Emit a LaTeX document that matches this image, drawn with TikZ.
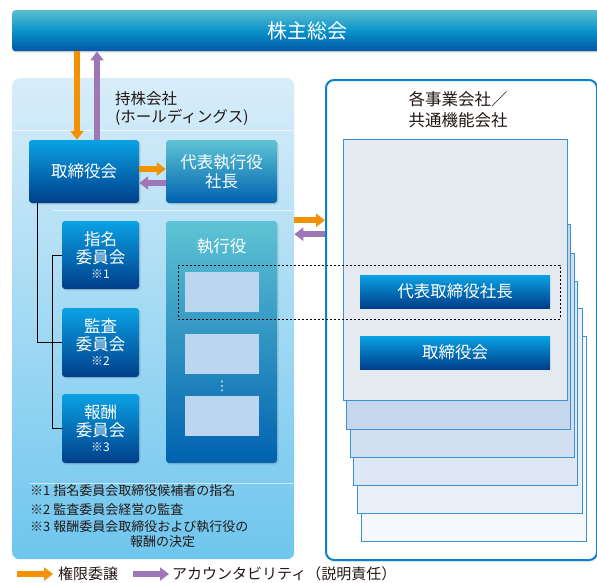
\documentclass[tikz,border=0pt]{standalone}
\usepackage{fontspec}
\setmainfont{Noto Sans CJK JP}
\newfontfamily\dejavu{DejaVu Sans}
\usetikzlibrary{arrows.meta,shadows,calc}
\definecolor{barTop}{HTML}{5BBFD0}
\definecolor{barMid}{HTML}{0A92CA}
\definecolor{barBot}{HTML}{0057A6}
\definecolor{bxTop}{HTML}{0AA2E4}
\definecolor{bxBot}{HTML}{003E8A}
\definecolor{tlTop}{HTML}{5EC4D4}
\definecolor{tlBot}{HTML}{0062B0}
\definecolor{pnTop}{HTML}{D8EDF9}
\definecolor{pnBot}{HTML}{6EC6EE}
\definecolor{bord}{HTML}{0A82CC}
\definecolor{pg1}{HTML}{E4EAF0}
\definecolor{pg2}{HTML}{C6D6EC}
\definecolor{pg3}{HTML}{D2DFF1}
\definecolor{pg4}{HTML}{DEE7F5}
\definecolor{pg5}{HTML}{E9F0F9}
\definecolor{pg6}{HTML}{F5F9FD}
\definecolor{pgBord}{HTML}{3A92D4}
\definecolor{innerbx}{HTML}{BDD6EF}
\definecolor{orng}{HTML}{F39200}
\definecolor{purp}{HTML}{9E78B6}
\definecolor{txt}{HTML}{231815}
\begin{document}
\begin{tikzpicture}[x=1pt,y=-1pt,
  shd/.style={drop shadow={opacity=0.25,shadow xshift=1.5pt,shadow yshift=-1.5pt}},
  bluebox/.style={rounded corners=3pt, top color=bxTop, bottom color=bxBot, text=white, inner sep=0pt, align=center, shd},
  tealbox/.style={rounded corners=3pt, top color=tlTop, bottom color=tlBot, text=white, inner sep=0pt, align=center, shd},
  barbox/.style={top color=bxTop, bottom color=bxBot, text=white, inner sep=0pt, minimum width=190, minimum height=33, font=\fontsize{16.5}{18}\selectfont},
  page/.style={draw=pgBord, line width=0.8pt, anchor=north west, inner sep=0pt},
  innerbox/.style={fill=innerbx, inner sep=0pt, minimum width=74, minimum height=40},
  orarrow/.style={draw=orng, line width=6pt, -{Triangle[length=9pt,width=13pt]}},
  puarrow/.style={draw=purp, line width=6pt, -{Triangle[length=9pt,width=13pt]}},
  conn/.style={draw=black, line width=0.9pt},
  title/.style={text=txt, inner sep=0pt, font=\fontsize{15.5}{18}\selectfont},
  note/.style={anchor=west, text=txt, inner sep=0pt, font=\fontsize{13}{14}\selectfont},
  sep/.style={draw=white, opacity=0.6, line width=0.6pt},
  btxt/.style={font=\fontsize{16.5}{19}\selectfont},
  ctxt/.style={font=\fontsize{16.5}{18}\selectfont},
]
\useasboundingbox (0,0) rectangle (597,582);
\clip (0,0) rectangle (597,582);

% top bar
\node[anchor=north west, rounded corners=3pt, top color=barTop, bottom color=barBot, middle color=barMid,
  minimum width=590, minimum height=41, inner sep=0pt, text=white, font=\fontsize{20}{22}\selectfont, shd]
  (gm) at (12,10) {株主総会};

% left panel
\node[anchor=north west, rounded corners=7pt, top color=pnTop, bottom color=pnBot,
  minimum width=282, minimum height=481, inner sep=0pt] (hd) at (12,78) {};
\draw[sep] (12,130) -- (294,130);
\draw[sep] (53,210) -- (294,210);
\draw[sep] (30,483) -- (294,483);
\node[title, anchor=west] (hdt1) at (115,98.5) {持株会社};
\node[title, anchor=west] (hdt2) at (115,117.5) {(ホールディングス)};

% right panel
\node[anchor=north west, draw=bord, line width=2pt, rounded corners=8pt, fill=white,
  minimum width=271, minimum height=480, inner sep=0pt,
  drop shadow={opacity=0.2,shadow xshift=1.5pt,shadow yshift=-1.5pt}] (sub) at (325,79) {};
\node[title, font=\fontsize{16.5}{18}\selectfont] (sbt1) at (458,99) {各事業会社／};
\node[title, font=\fontsize{16.5}{18}\selectfont] (sbt2) at (458,120) {共通機能会社};

% stacked pages
\node[page, fill=pg6, minimum width=225, minimum height=205] (p6) at (361,336) {};
\node[page, fill=pg5, minimum width=225, minimum height=205] (p5) at (357,308) {};
\node[page, fill=pg4, minimum width=224, minimum height=204] (p4) at (353,281) {};
\node[page, fill=pg3, minimum width=224, minimum height=204] (p3) at (350,253) {};
\node[page, fill=pg2, minimum width=224, minimum height=205] (p2) at (346,224) {};
\node[page, fill=pg1, minimum width=224, minimum height=261] (p1) at (343,139) {};
\node[barbox] (sceo) at (455,291.5) {代表取締役社長};
\node[barbox] (sbd) at (455,352.5) {取締役会};

% holding company boxes
\node[bluebox, minimum width=110, minimum height=63, btxt] (tb) at (84,171.5) {取締役会};
\node[tealbox, minimum width=111, minimum height=63, btxt] (ceo) at (221.5,171.5) {代表執行役\\社長};
\node[bluebox, minimum width=77, minimum height=68, ctxt] (nom) at (100.5,255)
  {指名\\委員会\\[-3pt]{\fontsize{12}{12}\selectfont ※1}};
\node[bluebox, minimum width=77, minimum height=69, ctxt] (aud) at (100.5,342.5)
  {監査\\委員会\\[-3pt]{\fontsize{12}{12}\selectfont ※2}};
\node[bluebox, minimum width=77, minimum height=69, ctxt] (rem) at (100.5,428.5)
  {報酬\\委員会\\[-3pt]{\fontsize{12}{12}\selectfont ※3}};
\node[tealbox, minimum width=111, minimum height=242] (ex) at (221.5,342) {};
\node[text=white, inner sep=0pt, btxt] (ext) at (221.5,246) {執行役};
\node[innerbox] (e1) at (222,292) {};
\node[innerbox] (e2) at (222,353.5) {};
\node[text=white, inner sep=0pt, font=\dejavu\fontsize{13}{13}\selectfont] (edots) at (222,386) {⋮};
\node[innerbox] (e3) at (222,416) {};

% dashed frame
\node[draw=black, line width=0.8pt, dash pattern=on 2pt off 2pt, anchor=north west,
  minimum width=382, minimum height=54, inner sep=0pt] (dsh) at (178,265) {};

% tree connectors
\draw[conn] ([xshift=9pt]tb.south west) |- (aud.west);
\draw[conn] (nom.west) -- ++(-9,0) |- (rem.west);

% arrows
\draw[orarrow] ([xshift=-7pt]tb.north |- gm.south) -- ([xshift=-7pt]tb.north);
\draw[puarrow] ([xshift=13pt]tb.north) -- ([xshift=13pt]tb.north |- gm.south);
\draw[orarrow] ([yshift=2.5pt]tb.east) -- ([yshift=2.5pt]ceo.west);
\draw[puarrow] ([yshift=-11.5pt]ceo.west) -- ([yshift=-11.5pt]tb.east);
\draw[orarrow] ([yshift=98.5pt]hd.east) -- ([yshift=98.5pt]hd.east -| sub.west);
\draw[puarrow] ([yshift=84.5pt]hd.east -| sub.west) -- ([yshift=84.5pt]hd.east);

% notes
\node[note] (n1) at (30,491) {※1 指名委員会取締役候補者の指名};
\node[note] (n2) at (30,510) {※2 監査委員会経営の監査};
\node[note] (n3) at (30,527) {※3 報酬委員会取締役および執行役の};
\node[note] (n4) at (130,542) {報酬の決定};

% legend
\coordinate (lo1) at (17,574);
\coordinate (lo2) at (53,574);
\coordinate (lp1) at (133,574);
\coordinate (lp2) at (169,574);
\draw[orarrow] (lo1) -- (lo2);
\draw[puarrow] (lp1) -- (lp2);
\node[anchor=west, inner sep=0pt, text=txt, font=\fontsize{15}{16}\selectfont] (lg1) at (58,573.5) {権限委譲};
\node[anchor=west, inner sep=0pt, text=txt, font=\fontsize{15}{16}\selectfont] (lg2) at (172,573.5) {アカウンタビリティ（説明責任）};
\end{tikzpicture}
\end{document}
